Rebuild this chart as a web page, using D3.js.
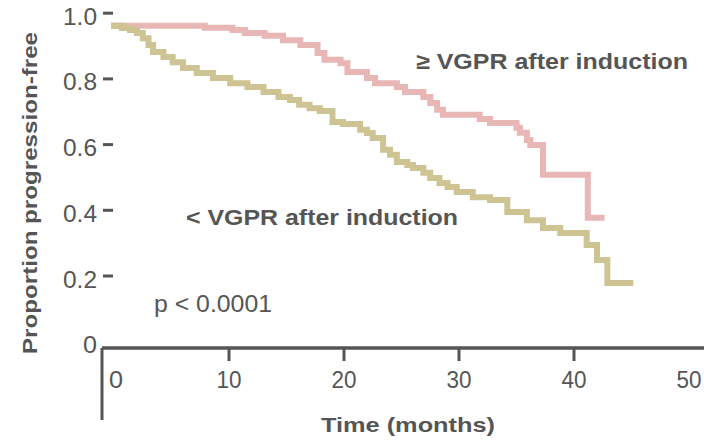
<!DOCTYPE html>
<html>
<head>
<meta charset="utf-8">
<script src="https://cdn.jsdelivr.net/npm/d3@7"></script>
<style>
  html, body { margin: 0; padding: 0; background: #fff; }
  svg { display: block; font-family: "Liberation Sans", Arial, sans-serif; }
</style>
</head>
<body>
<svg id="chart" width="704" height="440"></svg>
<script>
// ---- data ----
const xTicks = [0, 10, 20, 30, 40, 50];
const xTickMarks = [10, 20, 30, 40];
const yTicks = [1.0, 0.8, 0.6, 0.4, 0.2, 0];
const yTickLabels = ["1.0", "0.8", "0.6", "0.4", "0.2", "0"];
const yTickMarks = [1.0, 0.8, 0.6, 0.4, 0.2];

// >= VGPR after induction (step starts)
const highTime = [0, 7.9, 10.3, 11.4, 13.1, 14.7, 16.2, 17.7, 18.3, 19.7, 20.3, 22.0, 22.7, 24.6, 25.3, 26.9, 27.5, 28.1, 28.6, 31.8, 32.7, 35.0, 35.3, 35.9, 36.2, 37.3, 41.2, 42.4];
const highSurv = [0.962, 0.956, 0.949, 0.940, 0.931, 0.918, 0.903, 0.879, 0.858, 0.848, 0.821, 0.803, 0.787, 0.775, 0.760, 0.745, 0.727, 0.706, 0.691, 0.678, 0.666, 0.651, 0.636, 0.614, 0.599, 0.508, 0.377, 0.377];

// < VGPR after induction (step starts)
const lowTime = [0, 0.7, 1.4, 2.0, 2.5, 3.0, 3.4, 4.3, 5.1, 6.0, 7.2, 8.6, 10.1, 11.6, 13.0, 14.3, 15.3, 16.1, 17.0, 17.9, 19.0, 19.9, 21.4, 22.0, 22.5, 23.4, 24.0, 24.6, 25.5, 26.0, 26.9, 27.5, 28.3, 29.0, 29.8, 31.2, 32.7, 34.2, 35.9, 37.3, 38.8, 41.1, 42.0, 42.9, 44.9];
const lowSurv = [0.962, 0.955, 0.949, 0.940, 0.924, 0.903, 0.882, 0.867, 0.851, 0.833, 0.818, 0.803, 0.787, 0.775, 0.760, 0.745, 0.736, 0.721, 0.711, 0.702, 0.669, 0.663, 0.645, 0.635, 0.620, 0.584, 0.569, 0.547, 0.538, 0.529, 0.514, 0.498, 0.483, 0.471, 0.456, 0.440, 0.431, 0.395, 0.370, 0.346, 0.331, 0.294, 0.249, 0.179, 0.179];

const highLabel = "\u2265 VGPR after induction";
const lowLabel = "< VGPR after induction";
const pLabel = "p < 0.0001";
const xTitle = "Time (months)";
const yTitle = "Proportion progression-free";

// ---- drawing ----
const svg = d3.select("#chart");
const ink = "#555555";
const x = d3.scaleLinear().domain([0, 50]).range([114, 689]);
const y = d3.scaleLinear().domain([0, 1]).range([341.7, 13.2]);

function fit(sel, w) {
  sel.attr("textLength", w).attr("lengthAdjust", "spacingAndGlyphs");
  return sel;
}

// axis lines
svg.append("line").attr("x1", 102).attr("x2", 704).attr("y1", 348).attr("y2", 348)
  .attr("stroke", ink).attr("stroke-width", 3.5);
svg.append("line").attr("x1", 102).attr("x2", 102).attr("y1", 348).attr("y2", 420)
  .attr("stroke", ink).attr("stroke-width", 3);

// x ticks
svg.selectAll(".xtick").data(xTickMarks).join("line")
  .attr("x1", d => x(d)).attr("x2", d => x(d)).attr("y1", 348).attr("y2", 361)
  .attr("stroke", ink).attr("stroke-width", 3);
svg.selectAll(".xlab").data(xTicks).join("text")
  .attr("x", d => x(d) + (d === 0 ? 2 : 0)).attr("y", 388)
  .attr("text-anchor", "middle").attr("fill", ink)
  .style("font-size", "23px")
  .text(d => String(d))
  .each(function(d) { fit(d3.select(this), String(d).length === 1 ? 14 : 25); });

// y ticks
svg.selectAll(".ytick").data(yTickMarks).join("line")
  .attr("x1", 103).attr("x2", 113).attr("y1", d => y(d)).attr("y2", d => y(d))
  .attr("stroke", ink).attr("stroke-width", 3);
svg.selectAll(".ylab").data(yTicks).join("text")
  .attr("x", 97).attr("y", d => y(d) + 11.5)
  .attr("text-anchor", "end").attr("fill", ink)
  .style("font-size", "23px")
  .text((d, i) => yTickLabels[i])
  .each(function(d, i) { fit(d3.select(this), yTickLabels[i].length === 1 ? 14 : 34); });

// curves
const line = d3.line().x(d => x(d[0])).y(d => y(d[1])).curve(d3.curveStepAfter);
const high = highTime.map((t, i) => [t, highSurv[i]]);
const low = lowTime.map((t, i) => [t, lowSurv[i]]);
svg.append("path").attr("d", line(high)).attr("fill", "none")
  .attr("stroke", "#e8b6b5").attr("stroke-width", 6).attr("stroke-linecap", "square");
svg.append("path").attr("d", line(low)).attr("fill", "none")
  .attr("stroke", "#cec493").attr("stroke-width", 6).attr("stroke-linecap", "square");

// annotations
fit(svg.append("text").attr("x", 416).attr("y", 69).attr("fill", ink)
  .style("font-size", "22px").style("font-weight", "bold").text(highLabel), 272);
fit(svg.append("text").attr("x", 186).attr("y", 225).attr("fill", ink)
  .style("font-size", "22px").style("font-weight", "bold").text(lowLabel), 272);
fit(svg.append("text").attr("x", 154).attr("y", 312).attr("fill", ink)
  .style("font-size", "23px").text(pLabel), 118);

// axis titles
fit(svg.append("text").attr("x", 408).attr("y", 432).attr("text-anchor", "middle").attr("fill", ink)
  .style("font-size", "21px").style("font-weight", "bold").text(xTitle), 174);
fit(svg.append("text").attr("transform", "translate(37,193) rotate(-90)")
  .attr("text-anchor", "middle").attr("fill", ink)
  .style("font-size", "21px").style("font-weight", "bold").text(yTitle), 322);
</script>
</body>
</html>
